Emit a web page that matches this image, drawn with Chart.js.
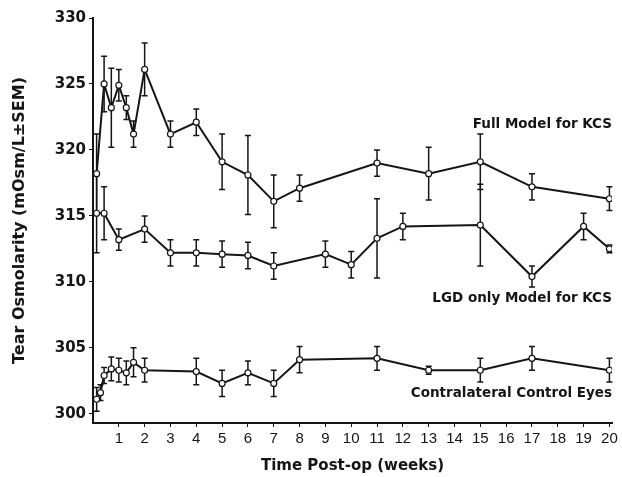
<!DOCTYPE html>
<html>
<head>
<meta charset="utf-8">
<script src="https://cdn.jsdelivr.net/npm/chart.js@4"></script>
<style>
    html, body { margin: 0; padding: 0; background: #fff; }
</style>
</head>
<body>
<canvas id="osmoChart" width="622" height="477"></canvas>
<script>
// semanas pos-op de cada serie
const semanasFull = [0.14, 0.43, 0.71, 1, 1.29, 1.57, 2, 3, 4, 5, 6, 7, 8, 11, 13, 15, 17, 20];
const mediaFull   = [318.2, 325.0, 323.2, 324.9, 323.2, 321.2, 326.1, 321.2, 322.1, 319.1, 318.1, 316.1, 317.1, 319.0, 318.2, 319.1, 317.2, 316.3];
const semFull     = [3.0, 2.1, 3.0, 1.2, 0.9, 1.0, 2.0, 1.0, 1.0, 2.1, 3.0, 2.0, 1.0, 1.0, 2.0, 2.1, 1.0, 0.9];

const semanasLGD = [0.14, 0.43, 1, 2, 3, 4, 5, 6, 7, 9, 10, 11, 12, 15, 17, 19, 20];
const mediaLGD   = [315.2, 315.2, 313.2, 314.0, 312.2, 312.2, 312.1, 312.0, 311.2, 312.1, 311.3, 313.3, 314.2, 314.3, 310.4, 314.2, 312.5];
const semLGD     = [3.0, 2.0, 0.8, 1.0, 1.0, 1.0, 1.0, 1.0, 1.0, 1.0, 1.0, 3.0, 1.0, 3.1, 0.8, 1.0, 0.3];

const semanasControle = [0.14, 0.29, 0.43, 0.71, 1, 1.29, 1.57, 2, 4, 5, 6, 7, 8, 11, 13, 15, 17, 20];
const mediaControle   = [301.1, 301.6, 302.9, 303.4, 303.3, 303.1, 303.9, 303.3, 303.2, 302.3, 303.1, 302.3, 304.1, 304.2, 303.3, 303.3, 304.2, 303.3];
const semControle     = [0.9, 0.6, 0.6, 0.9, 0.9, 0.9, 1.1, 0.9, 1.0, 1.0, 0.9, 1.0, 1.0, 0.9, 0.3, 0.9, 0.9, 0.9];

const ticksX = [1, 2, 3, 4, 5, 6, 7, 8, 9, 10, 11, 12, 13, 14, 15, 16, 17, 18, 19, 20];
const ticksY = [300, 305, 310, 315, 320, 325, 330];

const rotulosSeries = ['Full Model for KCS', 'LGD only Model for KCS', 'Contralateral Control Eyes'];
const posRotulos = [321.9, 308.7, 301.5];

const tinta = '#151515';

function montarSerie(semanas, medias, erros) {
    return {
        data: semanas.map((s, i) => ({ x: s, y: medias[i] })),
        erros: erros,
        borderColor: tinta, borderWidth: 2, tension: 0,
        pointRadius: 3, pointBackgroundColor: '#fff', pointBorderColor: tinta, pointBorderWidth: 1.2
    };
}

// barras de erro (media +- SEM)
const barrasErro = {
    id: 'barrasErro',
    beforeDatasetsDraw(chart) {
        const ctx = chart.ctx;
        const y = chart.scales.y;
        ctx.save();
        ctx.strokeStyle = tinta;
        ctx.lineWidth = 1.5;
        chart.data.datasets.forEach((ds, i) => {
            const meta = chart.getDatasetMeta(i);
            meta.data.forEach((pt, j) => {
                const v = ds.data[j].y, e = ds.erros[j];
                const yTop = y.getPixelForValue(v + e), yBot = y.getPixelForValue(v - e);
                ctx.beginPath();
                ctx.moveTo(pt.x, yTop); ctx.lineTo(pt.x, yBot);
                ctx.moveTo(pt.x - 3, yTop); ctx.lineTo(pt.x + 3, yTop);
                ctx.moveTo(pt.x - 3, yBot); ctx.lineTo(pt.x + 3, yBot);
                ctx.stroke();
            });
        });
        ctx.restore();
    }
};

const rotulos = {
    id: 'rotulos',
    afterDraw(chart) {
        const ctx = chart.ctx;
        const xs = chart.scales.x, ys = chart.scales.y;
        ctx.save();
        ctx.fillStyle = tinta;
        ctx.font = 'bold 13.5px "DejaVu Sans"';
        ctx.textAlign = 'right';
        ctx.textBaseline = 'middle';
        rotulosSeries.forEach((txt, i) => {
            ctx.fillText(txt, xs.getPixelForValue(20.1), ys.getPixelForValue(posRotulos[i]));
        });
        ctx.restore();
    }
};

new Chart(document.getElementById('osmoChart'), {
    type: 'line',
    data: {
        datasets: [
            montarSerie(semanasFull, mediaFull, semFull),
            montarSerie(semanasLGD, mediaLGD, semLGD),
            montarSerie(semanasControle, mediaControle, semControle)
        ]
    },
    options: {
        responsive: false, animation: false,
        layout: { padding: { top: 18, right: 10, bottom: 0, left: 0 } },
        plugins: { legend: { display: false }, tooltip: { enabled: false } },
        scales: {
            x: {
                type: 'linear', min: 0, max: 20.1,
                afterBuildTicks: s => { s.ticks = ticksX.map(v => ({ value: v })); },
                afterFit: s => { s.height = 54; },
                grid: { drawOnChartArea: false, drawTicks: true, tickLength: 4, color: tinta },
                border: { display: true, color: tinta, width: 2 },
                ticks: { color: tinta, padding: 3, maxRotation: 0, autoSkip: false, font: { family: 'Liberation Sans', size: 15 } },
                title: { display: true, text: 'Time Post-op (weeks)', color: tinta, padding: { top: 0, bottom: 2 }, font: { family: 'DejaVu Sans', size: 15, weight: 'bold' } }
            },
            y: {
                min: 299.3, max: 330,
                afterBuildTicks: s => { s.ticks = ticksY.map(v => ({ value: v })); },
                afterFit: s => { s.width = 93; },
                grid: { drawOnChartArea: false, drawTicks: true, tickLength: 4, color: tinta },
                border: { display: true, color: tinta, width: 2 },
                ticks: { color: tinta, padding: 3, font: { family: 'DejaVu Sans', size: 15, weight: 'bold' } },
                title: { display: true, text: 'Tear Osmolarity (mOsm/L\u00B1SEM)', color: tinta, padding: { top: 10, bottom: 0 }, font: { family: 'DejaVu Sans', size: 16, weight: 'bold' } }
            }
        }
    },
    plugins: [barrasErro, rotulos]
});
</script>
</body>
</html>
